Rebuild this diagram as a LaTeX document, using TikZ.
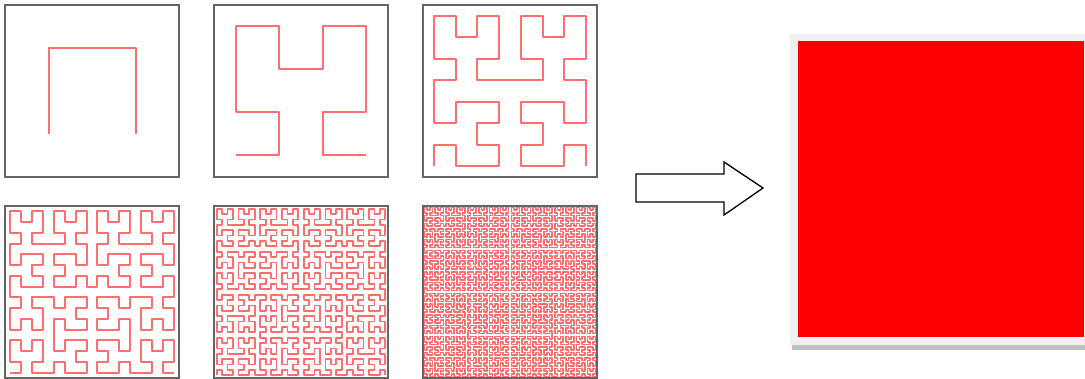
\documentclass[tikz,border=0pt]{standalone}
\usetikzlibrary{lindenmayersystems}
\pgfdeclarelindenmayersystem{Hilbert curve}{
  \rule{L -> +RF-LFL-FR+}
  \rule{R -> -LF+RFR+FL-}}
\definecolor{hilred}{RGB}{255,110,110}
\definecolor{framegray}{RGB}{100,100,100}
\definecolor{lightframe}{RGB}{240,240,240}
\definecolor{shadowgray}{RGB}{192,192,192}
\definecolor{pure}{RGB}{255,0,0}
\begin{document}
\begin{tikzpicture}[x=1pt,y=1pt,
  panel/.style={draw=framegray, line width=1.4pt, minimum width=174pt, minimum height=172pt, inner sep=0pt, outer sep=0pt, anchor=south west},
  hil/.style={draw=hilred, line width=2pt, line join=round},
  blockarrow/.style={draw=black, line width=1.3pt, fill=white, line join=miter}]
\useasboundingbox (0,0) rectangle (1085,378);
% anchors of the six panels
\coordinate (c1) at (5,201);
\coordinate (c2) at (214,201);
\coordinate (c3) at (423,201);
\coordinate (c4) at (5,0);
\coordinate (c5) at (214,0);
\coordinate (c6) at (423,0);
% Hilbert curves
\begin{scope}[shift={(c1)}, yscale=0.9885, shift={(43.5,43.5)}]
  \draw[hil, l-system={Hilbert curve, axiom=L, order=1, step=87pt, angle=90}] (0,0) l-system;
\end{scope}
\begin{scope}[shift={(c2)}, yscale=0.9885, shift={(21.75,21.75)}]
  \draw[hil, l-system={Hilbert curve, axiom=L, order=2, step=43.5pt, angle=90}] (0,0) l-system;
\end{scope}
\begin{scope}[shift={(c3)}, yscale=0.9885, shift={(10.875,10.875)}]
  \draw[hil, l-system={Hilbert curve, axiom=L, order=3, step=21.75pt, angle=90}] (0,0) l-system;
\end{scope}
\begin{scope}[shift={(c4)}, yscale=0.9885, shift={(5.4375,5.4375)}]
  \draw[hil, l-system={Hilbert curve, axiom=L, order=4, step=10.875pt, angle=90}] (0,0) l-system;
\end{scope}
\begin{scope}[shift={(c5)}, yscale=0.9885, shift={(2.71875,2.71875)}]
  \draw[hil, line width=1.8pt, l-system={Hilbert curve, axiom=L, order=5, step=5.4375pt, angle=90}] (0,0) l-system;
\end{scope}
\begin{scope}[shift={(c6)}, yscale=0.9885, shift={(1.359375,1.359375)}]
  \draw[hil, line width=1.6pt, l-system={Hilbert curve, axiom=L, order=6, step=2.71875pt, angle=90}] (0,0) l-system;
\end{scope}
% frames
\node[panel] (b1) at (c1) {};
\node[panel] (b2) at (c2) {};
\node[panel] (b3) at (c3) {};
\node[panel] (b4) at (c4) {};
\node[panel] (b5) at (c5) {};
\node[panel] (b6) at (c6) {};
% block arrow
\draw[blockarrow] (636,176) -- (724,176) -- (724,163) -- (763,190) -- (724,216) -- (724,204) -- (636,204) -- cycle;
% filled square
\fill[shadowgray] (792,28) rectangle (1085,33);
\node[fill=lightframe, inner sep=0pt, outer sep=0pt, anchor=south west, minimum width=295pt, minimum height=311pt] (frame) at (790,33) {};
\node[fill=pure, inner sep=0pt, outer sep=0pt, anchor=south west, minimum width=286pt, minimum height=296pt] (square) at (798,41) {};
\end{tikzpicture}
\end{document}
